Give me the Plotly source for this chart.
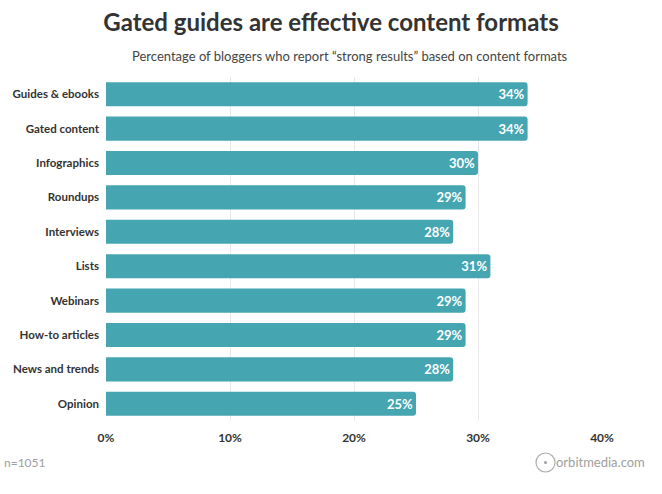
import plotly.graph_objects as go

categories = ["Guides & ebooks", "Gated content", "Infographics", "Roundups", "Interviews",
              "Lists", "Webinars", "How-to articles", "News and trends", "Opinion"]
values = [34, 34, 30, 29, 28, 31, 29, 29, 28, 25]
tick_vals = [0, 10, 20, 30, 40]
tick_text = ["0%", "10%", "20%", "30%", "40%"]

BAR = "#45A6B2"
FONT = "Lato, 'Open Sans', sans-serif"

fig = go.Figure(go.Bar(
    x=values, y=categories, orientation="h",
    marker=dict(color=BAR, cornerradius=3, line=dict(width=0)),
    width=0.7,
    text=[f"{v}%" for v in values],
    textposition="inside", insidetextanchor="end",
    textfont=dict(color="white", size=13, family=FONT, weight="bold"),
    cliponaxis=False,
))

fig.update_layout(
    width=662, height=494,
    margin=dict(l=106, r=60, t=77, b=73, autoexpand=False),
    paper_bgcolor="white", plot_bgcolor="white",
    showlegend=False,
    font=dict(family=FONT, color="#333"),
    title=dict(text="<b>Gated guides are effective content formats</b>",
               x=0.5, xanchor="center", y=0.955, yanchor="middle",
               font=dict(size=24, color="#333", family=FONT)),
    xaxis=dict(range=[0, 40], tickvals=tick_vals, ticktext=tick_text, automargin=False,
               showgrid=True, gridcolor="#E8E8E8", gridwidth=1, zeroline=False,
               showline=False, ticks="", ticklen=0, ticklabelstandoff=8,
               tickfont=dict(size=12, color="#333", family=FONT, weight="bold")),
    yaxis=dict(autorange="reversed", showgrid=False, showline=False, ticks="",
               ticklabelstandoff=6, automargin=False,
               tickfont=dict(size=11.5, color="#333", family=FONT, weight="bold")),
    annotations=[
        dict(text="Percentage of bloggers who report “strong results” based on content formats",
             xref="paper", yref="paper", x=0.5, y=1, xanchor="center", yanchor="middle",
             yshift=21, xshift=-4, showarrow=False,
             font=dict(size=13, color="#444", family=FONT)),
        dict(text="n=1051", xref="paper", yref="paper", x=0, y=0, xanchor="left", yanchor="middle",
             xshift=-104, yshift=-41, showarrow=False,
             font=dict(size=12, color="#A0A0A0", family=FONT)),
        dict(text="orbitmedia.com", xref="paper", yref="paper", x=1, y=0, xanchor="right",
             yanchor="middle", xshift=45, yshift=-41, showarrow=False,
             font=dict(size=13, color="#A0A0A0", family=FONT)),
    ],
    shapes=[
        dict(type="circle", xref="paper", yref="paper", xsizemode="pixel", ysizemode="pixel",
             xanchor=1, yanchor=0, x0=-66, x1=-47, y0=-51, y1=-32,
             line=dict(color="#B0B0B0", width=1.2)),
        dict(type="circle", xref="paper", yref="paper", xsizemode="pixel", ysizemode="pixel",
             xanchor=1, yanchor=0, x0=-58, x1=-55, y0=-43, y1=-40,
             fillcolor="#A0A0A0", line=dict(width=0)),
    ],
)

fig.write_html("out.html", config={"displayModeBar": False},
               post_script="document.body.style.margin='0';document.body.style.padding='0';")
